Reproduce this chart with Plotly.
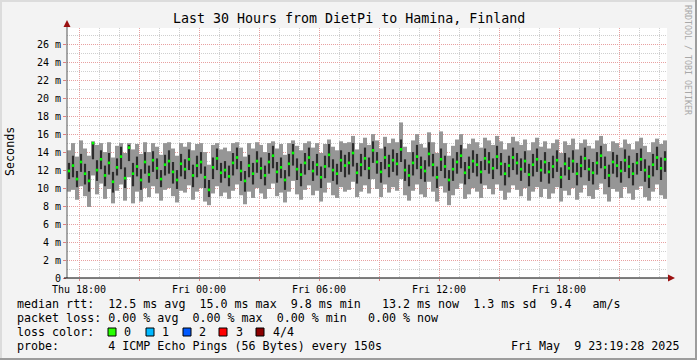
import numpy as np
import pandas as pd
import plotly.graph_objects as go

# ---------------- data (ms) ----------------
median = [
11.9,12.5,11.0,12.9,11.6,10.8,15.0,12.0,13.2,11.4,
12.8,10.7,12.3,13.5,11.1,14.5,11.6,12.4,10.9,12.9,
11.5,13.1,12.2,11.0,12.6,13.0,11.8,10.9,12.7,12.1,
13.2,11.4,12.5,12.9,11.2,9.8,12.3,13.3,11.7,12.0,
11.3,12.8,13.4,11.9,10.8,12.5,11.6,13.0,12.2,11.4,
12.9,13.6,11.8,12.3,10.9,12.7,13.9,12.1,11.5,12.8,
13.4,11.9,12.6,11.2,12.4,13.7,12.0,11.6,13.1,12.5,
12.8,13.9,11.7,12.6,13.3,12.2,14.2,12.9,11.8,13.4,
12.5,13.1,12.7,14.3,12.0,11.4,12.8,13.5,12.3,11.9,
13.8,12.6,11.2,13.2,12.4,10.9,12.1,12.9,13.6,11.7,
12.3,13.0,12.6,11.8,13.3,12.9,12.2,13.5,12.7,11.6,
12.5,13.4,12.8,12.1,13.0,11.5,12.6,13.2,12.0,12.9,
11.8,12.4,13.1,11.2,12.7,12.2,13.0,11.6,12.5,13.3,
12.1,11.7,12.8,13.6,12.3,11.4,12.9,12.5,11.9,13.1,
12.4,11.6,12.8,13.2,12.0,11.3,12.6,13.4,12.2,13.2,
]
ping2 = [
11.0,11.2,10.1,11.8,10.4,9.6,13.2,10.8,12.1,10.2,
11.5,9.5,11.4,12.1,10.0,13.0,10.2,11.3,9.8,11.6,
10.6,11.8,11.0,10.1,11.4,11.6,10.5,9.9,11.3,11.0,
12.0,10.1,11.2,11.6,10.0,9.0,11.0,12.0,10.6,11.1,
10.2,11.4,12.1,10.8,9.6,11.2,10.4,11.7,11.0,10.3,
11.6,12.2,10.6,11.1,9.8,11.3,12.5,10.9,10.2,11.5,
12.0,10.8,11.4,10.0,11.1,12.3,10.8,10.4,11.8,11.2,
11.5,12.4,10.5,11.3,12.0,11.0,12.8,11.6,10.6,12.1,
11.2,11.8,11.4,12.9,10.8,10.2,11.4,12.1,11.0,10.7,
12.4,11.3,10.0,11.9,11.1,9.7,10.8,11.6,12.2,10.4,
11.0,11.7,11.3,10.5,12.0,11.6,11.0,12.1,11.4,10.3,
11.2,12.0,11.5,10.8,11.7,10.2,11.3,11.8,10.7,11.6,
10.5,11.1,11.8,10.0,11.4,10.9,11.7,10.3,11.2,12.0,
10.8,10.4,11.5,12.2,11.0,10.1,11.6,11.2,10.6,11.8,
11.1,10.3,11.5,11.9,10.7,10.0,11.3,12.0,10.9,11.8,
]
ping3 = [
12.8,13.6,11.9,13.8,12.7,11.9,15.1,13.1,14.2,12.5,
13.9,11.8,13.3,14.6,12.3,14.8,12.8,13.5,12.1,14.0,
12.5,14.1,13.3,12.0,13.7,14.2,12.9,12.0,13.8,13.2,
14.3,12.6,13.6,14.0,12.4,10.9,13.4,14.4,12.8,13.0,
12.5,13.9,14.5,13.0,11.9,13.7,12.8,14.1,13.4,12.5,
13.9,14.7,12.9,13.4,12.0,13.8,14.9,13.3,12.7,13.9,
14.5,13.0,13.8,12.4,13.6,14.9,13.2,12.7,14.2,13.7,
14.0,15.0,12.8,13.8,14.5,13.4,15.2,14.0,12.9,14.6,
13.7,14.3,13.9,15.4,13.2,12.6,14.0,14.8,13.5,13.1,
15.1,13.8,12.4,14.4,13.6,12.0,13.3,14.0,14.8,12.9,
13.5,14.2,13.8,13.0,14.4,14.0,13.3,14.7,13.9,12.8,
13.6,14.5,13.9,13.3,14.1,12.7,13.8,14.4,13.1,14.0,
12.9,13.6,14.2,12.3,13.9,13.4,14.2,12.8,13.6,14.5,
13.2,12.9,14.0,14.7,13.5,12.6,14.0,13.7,13.0,14.3,
13.6,12.8,13.9,14.4,13.2,12.5,13.8,14.6,13.4,14.1,
]
ping_min = [
9.6,9.8,8.7,10.2,9.1,7.9,11.4,9.3,10.5,8.8,
9.9,8.3,9.7,10.4,8.6,11.2,8.3,9.6,8.5,10.0,
9.0,10.2,9.4,8.6,9.8,10.0,9.1,8.4,9.7,9.5,
10.3,8.7,9.6,10.0,8.5,8.1,9.4,10.2,9.1,9.5,
8.8,9.7,10.4,9.2,8.2,9.6,8.9,10.0,9.4,8.8,
9.9,10.5,9.1,9.5,8.4,9.6,10.8,9.3,8.7,9.8,
10.3,9.2,9.7,8.5,9.5,10.6,9.2,8.9,10.1,9.6,
9.8,10.7,9.0,9.6,10.3,9.4,11.0,9.9,9.0,10.4,
9.5,10.1,9.7,11.0,9.2,8.6,9.7,10.4,9.3,9.0,
10.7,9.6,8.5,10.2,9.5,8.1,9.2,9.9,10.5,8.8,
9.3,10.0,9.6,8.9,10.3,9.9,9.3,10.4,9.7,8.7,
9.5,10.3,9.8,9.1,10.0,8.6,9.6,10.1,9.0,9.9,
8.8,9.4,10.1,8.5,9.7,9.2,10.0,8.7,9.5,10.3,
9.1,8.8,9.8,10.5,9.3,8.5,9.9,9.6,8.9,10.1,
9.4,8.7,9.8,10.2,9.0,8.6,9.6,10.4,9.2,8.8,
]
ping_max = [
14.2,15.0,13.5,15.3,14.4,13.6,15.2,14.8,15.0,14.0,
15.1,13.4,14.7,15.0,13.9,15.0,14.3,14.9,13.8,15.1,
14.0,15.0,14.6,13.7,15.0,15.1,14.4,13.6,15.0,14.6,
15.1,14.2,14.9,15.0,14.0,12.6,14.8,15.0,14.3,14.5,
14.1,15.0,15.1,14.5,13.5,15.0,14.4,15.1,14.8,14.0,
15.0,15.2,14.4,14.9,13.7,15.0,15.3,14.7,14.2,15.0,
15.2,14.5,15.0,13.9,14.9,15.4,14.6,14.2,15.2,15.0,
15.1,15.8,14.3,15.0,15.6,14.8,16.0,15.3,14.4,15.7,
15.0,15.5,15.1,17.3,14.6,14.0,15.3,16.0,14.9,14.5,
16.2,15.1,13.9,16.3,15.0,13.6,14.7,15.4,16.0,14.4,
14.9,15.5,15.1,14.5,15.6,15.3,14.8,15.8,15.2,14.3,
15.0,15.7,15.2,14.8,15.4,14.2,15.1,15.6,14.6,15.2,
14.4,15.0,15.4,13.9,15.2,14.8,15.5,14.3,15.0,15.4,
14.7,14.4,15.3,15.8,14.9,14.1,15.2,15.0,14.5,15.4,
14.9,14.3,15.2,15.6,14.7,14.0,15.1,15.5,14.9,15.3,
]

start_time = "2025-05-08 17:24"
end_time = "2025-05-09 23:24"
step_minutes = 12

y_tick_vals = list(range(0, 27, 2))
y_tick_text = ["0"] + [f"{v} m" for v in range(2, 27, 2)]
x_tick_vals = ["2025-05-08 18:00", "2025-05-08 21:00", "2025-05-09 00:00", "2025-05-09 03:00",
               "2025-05-09 06:00", "2025-05-09 09:00", "2025-05-09 12:00", "2025-05-09 15:00",
               "2025-05-09 18:00", "2025-05-09 21:00"]
x_tick_text = ["Thu 18:00", "", "Fri 00:00", "", "Fri 06:00", "", "Fri 12:00", "", "Fri 18:00", ""]

title_text = "Last 30 Hours from DietPi to Hamina, Finland"
legend_lines = [
    "median rtt:  12.5 ms avg  15.0 ms max  9.8 ms min   13.2 ms now  1.3 ms sd  9.4   am/s",
    "packet loss: 0.00 % avg  0.00 % max  0.00 % min   0.00 % now",
    "loss color:",
    "probe:       4 ICMP Echo Pings (56 Bytes) every 150s",
]
loss_labels = ["0", "1", "2", "3", "4/4"]
loss_colors = ["#26ff00", "#00b8ff", "#0059ff", "#ff0000", "#8b0000"]
date_text = "Fri May  9 23:19:28 2025"

# ---------------- figure ----------------
W, H = 697, 360
L, R, T, B = 67, 667, 28, 278
MONO = "DejaVu Sans Mono"

def px(x):
    return (x - L) / (R - L)

def py(y):
    return (B - y) / (B - T)

n = len(median)
t0 = pd.Timestamp(start_time)
xs = [t0 + pd.Timedelta(minutes=step_minutes * (i + 0.5)) for i in range(n)]
w_ms = step_minutes * 60 * 1000

med = np.array(median); p2 = np.array(ping2); p3 = np.array(ping3)
pmin = np.array(ping_min); pmax = np.array(ping_max)

fig = go.Figure()
light = "#969696"
dark = "#2c2c2c"
fig.add_trace(go.Bar(x=xs, y=pmax - pmin, base=pmin, width=w_ms,
                     marker=dict(color=light, line=dict(width=0))))
fig.add_trace(go.Bar(x=xs, y=p3 - p2, base=p2, width=w_ms * 0.55,
                     marker=dict(color=dark, line=dict(width=0))))
fig.add_trace(go.Bar(x=xs, y=[0.3] * n, base=med - 0.15, width=w_ms * 0.6,
                     marker=dict(color="#00ff00", line=dict(width=0))))

shapes = []
# axis lines
shapes.append(dict(type="line", xref="paper", yref="paper", x0=px(L), x1=px(L), y0=py(B), y1=py(24),
                   line=dict(color="#555555", width=1)))
shapes.append(dict(type="line", xref="paper", yref="paper", x0=px(L - 3), x1=px(670), y0=py(B), y1=py(B),
                   line=dict(color="#000000", width=1)))
# arrows
shapes.append(dict(type="path", xref="paper", yref="paper",
                   path=f"M {px(L)} {py(20)} L {px(L-3.5)} {py(27)} L {px(L+3.5)} {py(27)} Z",
                   fillcolor="#9b1010", line=dict(width=0)))
shapes.append(dict(type="path", xref="paper", yref="paper",
                   path=f"M {px(675)} {py(B)} L {px(668)} {py(B-3.5)} L {px(668)} {py(B+3.5)} Z",
                   fillcolor="#9b1010", line=dict(width=0)))
# 3D frame
shapes.append(dict(type="rect", xref="paper", yref="paper", x0=px(0), x1=px(W), y0=py(0), y1=py(2),
                   fillcolor="#dcdcdc", line=dict(width=0)))
shapes.append(dict(type="rect", xref="paper", yref="paper", x0=px(0), x1=px(2), y0=py(0), y1=py(H),
                   fillcolor="#dcdcdc", line=dict(width=0)))
shapes.append(dict(type="rect", xref="paper", yref="paper", x0=px(0), x1=px(W), y0=py(H - 2), y1=py(H),
                   fillcolor="#9c9c9c", line=dict(width=0)))
shapes.append(dict(type="rect", xref="paper", yref="paper", x0=px(W - 2), x1=px(W), y0=py(0), y1=py(H),
                   fillcolor="#9c9c9c", line=dict(width=0)))
# loss colour boxes
box_x = [108, 146, 183, 219, 256]
for bx, c in zip(box_x, loss_colors):
    shapes.append(dict(type="rect", xref="paper", yref="paper", x0=px(bx), x1=px(bx + 8),
                       y0=py(328), y1=py(336), fillcolor=c, line=dict(color="#000000", width=1)))

annotations = []
def txt(x, y, s, size, anchor="left", color="#000000", angle=0, yanchor="middle"):
    annotations.append(dict(x=px(x), y=py(y), xref="paper", yref="paper", text=s.replace(" ", "\u00a0"),
                            showarrow=False, xanchor=anchor, yanchor=yanchor, textangle=angle,
                            font=dict(family=MONO, size=size, color=color)))

txt(348.5, 19, title_text, 13.3, anchor="center")
txt(10, 152, "Seconds", 11.7, anchor="center", angle=-90)
txt(688, 60, "RRDTOOL / TOBI OETIKER", 8.3, anchor="center", color="#a8a8a8", angle=90)
line_y = [304, 318, 332, 346]
for s, yy in zip(legend_lines, line_y):
    txt(15, yy, s, 11.66)
label_x = [122, 159.5, 197, 234, 270.5]
for s, lx in zip(loss_labels, label_x):
    txt(lx, 332, s, 11.66)
txt(681, 346, date_text, 11.66, anchor="right")

fig.update_layout(
    width=W, height=H,
    margin=dict(l=L, r=W - R, t=T, b=H - B, pad=0),
    paper_bgcolor="#f3f3f3", plot_bgcolor="#ffffff",
    barmode="overlay", showlegend=False,
    shapes=shapes, annotations=annotations,
    xaxis=dict(type="date", range=[start_time, end_time],
               tickvals=x_tick_vals, ticktext=x_tick_text,
               tickfont=dict(family=MONO, size=10, color="#000000"),
               showgrid=True, gridcolor="#e8a0a0", griddash="1px,1px", gridwidth=1,
               ticks="outside", ticklen=2, tickcolor="#e08080",
               minor=dict(dtick=3600000, tick0="2025-05-08 18:00", showgrid=True,
                          gridcolor="#cfcfcf", griddash="1px,1px", ticks=""),
               showline=False, zeroline=False, fixedrange=True),
    yaxis=dict(range=[0, 27.8], tickvals=y_tick_vals, ticktext=y_tick_text,
               tickfont=dict(family=MONO, size=10, color="#000000"),
               showgrid=True, gridcolor="#e8a0a0", griddash="1px,1px", gridwidth=1,
               ticks="outside", ticklen=3, tickcolor="#e08080",
               minor=dict(dtick=1, showgrid=True, gridcolor="#cfcfcf", griddash="1px,1px", ticks=""),
               showline=False, zeroline=False, fixedrange=True),
)

fig.write_html("out.html", post_script="document.body.style.margin='0px';",
               config={"displayModeBar": False})
